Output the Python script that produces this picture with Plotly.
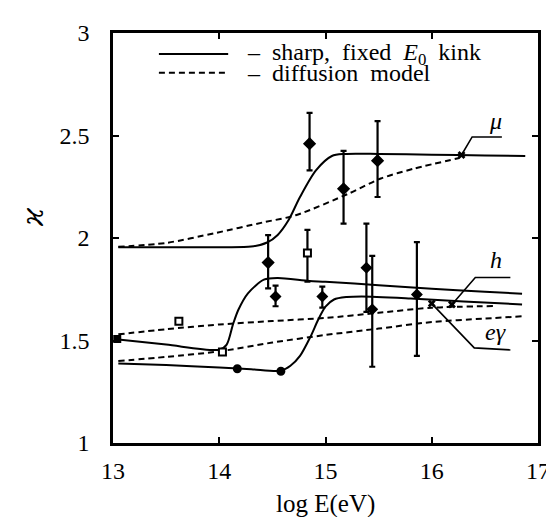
import numpy as np
import plotly.graph_objects as go

# ---------------- data ----------------
mu_solid_x = [13.05, 13.5, 14.0, 14.3, 14.45, 14.55, 14.65, 14.76, 14.91, 15.06, 15.18, 15.5, 16.0, 16.5, 16.88]
mu_solid_y = [1.955, 1.955, 1.955, 1.958, 1.978, 2.015, 2.085, 2.2, 2.33, 2.40, 2.41, 2.41, 2.406, 2.403, 2.40]

mu_dash_x = [13.05, 13.5, 13.96, 14.42, 14.72, 15.22, 15.52, 15.83, 16.26]
mu_dash_y = [1.957, 1.976, 2.024, 2.077, 2.111, 2.217, 2.29, 2.338, 2.39]

h_solid_x = [13.05, 13.5, 14.0, 14.07, 14.13, 14.18, 14.27, 14.42, 14.55, 14.85, 15.0, 15.5, 16.0, 16.5, 16.85]
h_solid_y = [1.505, 1.48, 1.455, 1.48, 1.58, 1.65, 1.73, 1.797, 1.805, 1.79, 1.787, 1.77, 1.752, 1.738, 1.728]

eg_solid_x = [13.05, 13.5, 14.0, 14.3, 14.58, 14.67, 14.76, 14.86, 14.93, 15.0, 15.08, 15.2, 15.34, 15.8, 16.3, 16.85]
eg_solid_y = [1.388, 1.38, 1.368, 1.36, 1.353, 1.377, 1.425, 1.52, 1.60, 1.665, 1.70, 1.712, 1.715, 1.705, 1.69, 1.676]

h_dash_x = [13.05, 13.5, 14.0, 14.5, 15.0, 15.5, 16.0, 16.6]
h_dash_y = [1.53, 1.555, 1.578, 1.595, 1.61, 1.635, 1.66, 1.668]

eg_dash_x = [13.05, 13.5, 14.0, 14.5, 15.0, 15.5, 16.0, 16.5, 16.85]
eg_dash_y = [1.40, 1.42, 1.447, 1.49, 1.527, 1.558, 1.59, 1.607, 1.618]

# muon points (filled diamonds with error bars)
mu_pts_x = [14.46, 14.85, 15.17, 15.49]
mu_pts_y = [1.88, 2.46, 2.24, 2.377]
mu_pts_hi = [2.014, 2.61, 2.425, 2.57]
mu_pts_lo = [1.754, 2.33, 2.07, 2.20]

# other filled diamonds with error bars
dia_x = [14.53, 14.97, 15.385, 15.44, 15.86]
dia_y = [1.715, 1.715, 1.855, 1.652, 1.724]
dia_hi = [1.768, 1.763, 2.07, 1.913, 1.98]
dia_lo = [1.667, 1.66, 1.64, 1.372, 1.425]

# open squares
sq_err_x = [14.83]
sq_err_y = [1.927]
sq_err_hi = [2.04]
sq_err_lo = [1.787]
sq_x = [13.62, 14.03]
sq_y = [1.594, 1.444]

# filled circles / small marks
circ_x = [14.17, 14.58]
circ_y = [1.362, 1.35]
blob_x = [13.04]
blob_y = [1.507]

# curve labels and their leader lines
label_text = ["<i>μ</i>", "<i>h</i>", "<i>eγ</i>"]
label_x = [16.6, 16.6, 16.6]
label_y = [2.57, 1.894, 1.54]
leader_x = [[16.28, 16.38, 16.66], [16.19, 16.41, 16.74], [16.0, 16.4, 16.74]]
leader_y = [[2.405, 2.493, 2.493], [1.676, 1.807, 1.807], [1.68, 1.464, 1.454]]

x_ticks = [13, 14, 15, 16, 17]
y_ticks = [1, 1.5, 2, 2.5, 3]

legend_texts = ["–\u00a0\u00a0sharp,\u00a0 fixed\u00a0 <i>E</i><sub>0</sub>\u00a0 kink",
                "–\u00a0\u00a0diffusion\u00a0 model"]

FONT = "Liberation Serif, Times New Roman, serif"
BLACK = "black"
DASH = "6px,4px"

fig = go.Figure()

def line(x, y, dash=None, smooth=0.8):
    fig.add_trace(go.Scatter(
        x=x, y=y, mode="lines",
        line=dict(color=BLACK, width=2, dash=dash or "solid", shape="spline", smoothing=smooth),
        showlegend=False, hoverinfo="skip"))

line(mu_solid_x, mu_solid_y)
line(mu_dash_x, mu_dash_y, DASH)
line(h_solid_x, h_solid_y)
line(eg_solid_x, eg_solid_y)
line(h_dash_x, h_dash_y, DASH)
line(eg_dash_x, eg_dash_y, DASH)

for lx, ly in zip(leader_x, leader_y):
    fig.add_trace(go.Scatter(x=lx, y=ly, mode="lines", line=dict(color=BLACK, width=1.6),
                             showlegend=False, hoverinfo="skip"))
fig.add_trace(go.Scatter(x=[lx[0] for lx in leader_x], y=[ly[0] for ly in leader_y], mode="markers",
                         marker=dict(symbol="x", size=7, color=BLACK, line=dict(width=0)),
                         showlegend=False, hoverinfo="skip"))

def points(x, y, hi=None, lo=None, symbol="diamond", size=9, fill=BLACK):
    x = np.array(x); y = np.array(y)
    err = None
    if hi is not None:
        err = dict(type="data", symmetric=False,
                   array=np.array(hi) - y, arrayminus=y - np.array(lo),
                   color=BLACK, thickness=2.2, width=3)
    fig.add_trace(go.Scatter(
        x=x, y=y, mode="markers", error_y=err,
        marker=dict(symbol=symbol, size=size, color=fill, line=dict(color=BLACK, width=2)),
        showlegend=False, hoverinfo="skip"))

points(mu_pts_x, mu_pts_y, mu_pts_hi, mu_pts_lo, "diamond", 8)
points(dia_x, dia_y, dia_hi, dia_lo, "diamond", 7)
points(sq_err_x, sq_err_y, sq_err_hi, sq_err_lo, "square", 7, "white")
points(sq_x, sq_y, symbol="square", size=7, fill="white")
points(circ_x, circ_y, symbol="circle", size=7)
points(blob_x, blob_y, symbol="square", size=6)

annotations = []
for t, x, y in zip(label_text, label_x, label_y):
    annotations.append(dict(x=x, y=y, xref="x", yref="y", text=t, showarrow=False,
                            xanchor="center", yanchor="middle",
                            font=dict(family=FONT, size=24, color=BLACK)))

# legend drawn inside the frame
shapes = [
    dict(type="line", xref="paper", yref="paper", x0=0.108, x1=0.271, y0=0.949, y1=0.949,
         line=dict(color=BLACK, width=2)),
    dict(type="line", xref="paper", yref="paper", x0=0.108, x1=0.271, y0=0.903, y1=0.903,
         line=dict(color=BLACK, width=2, dash=DASH)),
]
for yy, txt in zip([0.949, 0.903], legend_texts):
    annotations.append(dict(x=0.310, y=yy, xref="paper", yref="paper", text=txt, showarrow=False,
                            xanchor="left", yanchor="middle",
                            font=dict(family=FONT, size=24, color=BLACK)))

annotations.append(dict(x=0.5, y=-0.148, xref="paper", yref="paper", text="log E(eV)",
                        xanchor="center", yanchor="middle",
                        showarrow=False, font=dict(family=FONT, size=25, color=BLACK)))
annotations.append(dict(x=-0.19, y=0.552, xref="paper", yref="paper", text="<i>ϰ</i>",
                        xanchor="center", yanchor="middle",
                        textangle=-90, showarrow=False, font=dict(family="DejaVu Serif", size=29, color=BLACK)))

axis_common = dict(showgrid=False, zeroline=False, showline=True, linecolor=BLACK, linewidth=2.5,
                   mirror="ticks", ticks="inside", ticklen=6, tickwidth=2, tickcolor=BLACK,
                   tickfont=dict(family=FONT, size=24, color=BLACK))

fig.update_layout(
    width=554, height=517,
    margin=dict(l=105, r=13, t=22, b=82),
    paper_bgcolor="white", plot_bgcolor="white",
    xaxis=dict(range=[13, 17], tickvals=x_ticks, ticktext=[str(v) for v in x_ticks],
               ticklabelstandoff=4, **axis_common),
    yaxis=dict(range=[1, 3], tickvals=y_ticks, ticktext=[f"{v:g}" for v in y_ticks],
               ticklabelstandoff=16, **axis_common),
    annotations=annotations, shapes=shapes,
)

fig.write_html("out.html")
